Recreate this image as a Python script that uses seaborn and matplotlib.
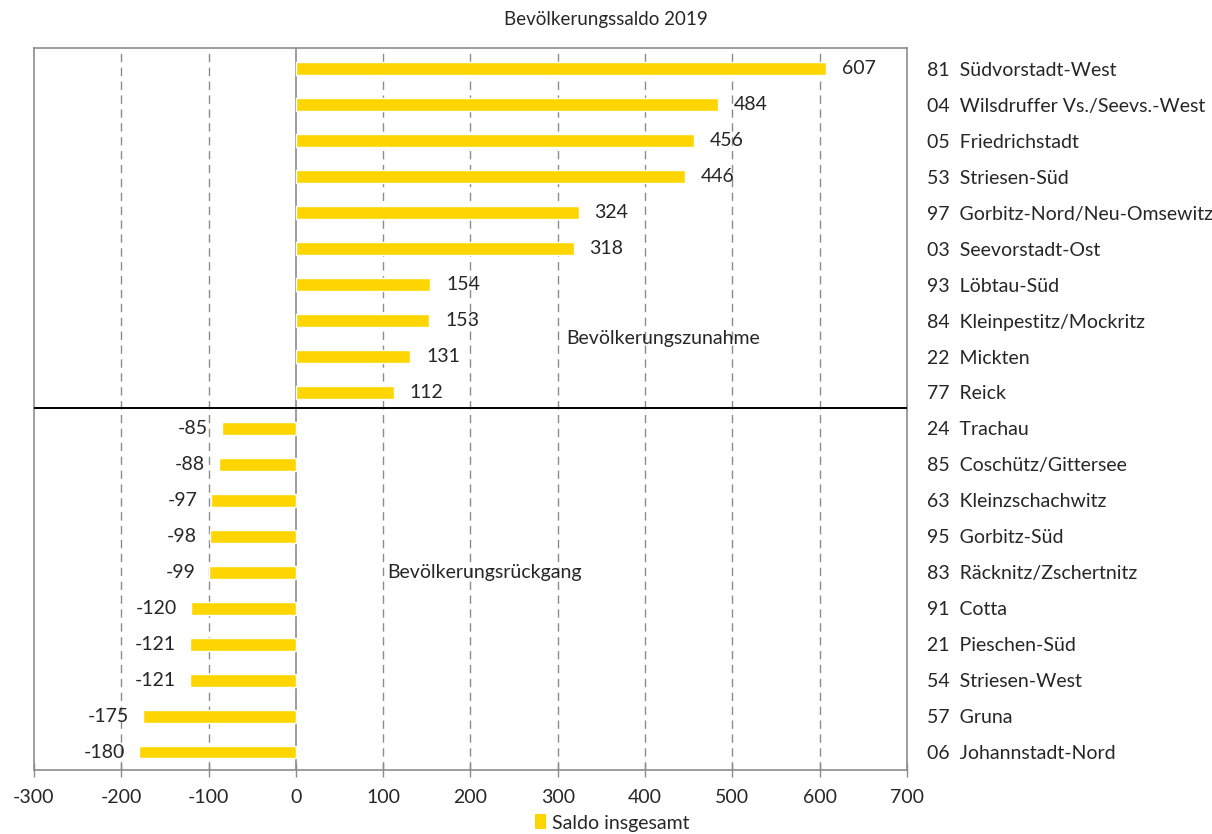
import matplotlib
matplotlib.use("Agg")
import matplotlib.pyplot as plt
from matplotlib.patches import Patch
import seaborn as sns
import pandas as pd

codes = ["81", "04", "05", "53", "97", "03", "93", "84", "22", "77",
         "24", "85", "63", "95", "83", "91", "21", "54", "57", "06"]
districts = ["Südvorstadt-West", "Wilsdruffer Vs./Seevs.-West", "Friedrichstadt",
             "Striesen-Süd", "Gorbitz-Nord/Neu-Omsewitz", "Seevorstadt-Ost",
             "Löbtau-Süd", "Kleinpestitz/Mockritz", "Mickten", "Reick",
             "Trachau", "Coschütz/Gittersee", "Kleinzschachwitz", "Gorbitz-Süd",
             "Räcknitz/Zschertnitz", "Cotta", "Pieschen-Süd", "Striesen-West",
             "Gruna", "Johannstadt-Nord"]
saldo = [607, 484, 456, 446, 324, 318, 154, 153, 131, 112,
         -85, -88, -97, -98, -99, -120, -121, -121, -175, -180]
x_ticks = [-300, -200, -100, 0, 100, 200, 300, 400, 500, 600, 700]

BAR = "#FFD500"
GRID = "#8C8C8C"
FS = 14

sns.set_theme(style="white")
plt.rcParams["font.family"] = ["Lato", "DejaVu Sans"]

labels = [f"{c}  {d}" for c, d in zip(codes, districts)]
df = pd.DataFrame({"Stadtteil": labels, "Saldo": saldo})

fig = plt.figure(figsize=(12.12, 8.34), dpi=100)
ax = fig.add_axes([34 / 1212, 1 - 770 / 834, (907 - 34) / 1212, (770 - 48) / 834])

sns.barplot(data=df, x="Saldo", y="Stadtteil", orient="h", color=BAR,
            width=0.36, saturation=1, ax=ax, zorder=3)

ax.set_xlim(-300, 700)
ax.set_ylim(19.5, -0.58)
ax.set_xticks(x_ticks)
ax.set_xticklabels([str(v) for v in x_ticks], fontsize=FS)
ax.set_xlabel("")
ax.set_ylabel("")

# dashed vertical gridlines, solid zero line
for v in x_ticks[1:-1]:
    if v == 0:
        ax.axvline(0, color=GRID, lw=1.2, zorder=2)
    else:
        ax.axvline(v, color=GRID, lw=1.0, ls=(0, (6, 4)), zorder=1)

# separator between gain and loss districts
ax.axhline(9.42, color="black", lw=1.4, zorder=4)

for s in ax.spines.values():
    s.set_color(GRID)
    s.set_linewidth(1.2)

ax.tick_params(axis="x", direction="inout", length=10, width=1.0, color=GRID,
               pad=9, bottom=True)
ax.yaxis.tick_right()
ax.tick_params(axis="y", length=0, pad=14.5, labelsize=FS)
for t in ax.get_yticklabels():
    t.set_horizontalalignment("left")

# value labels at bar ends
for i, v in enumerate(saldo):
    if v >= 0:
        ax.text(v + 18, i, str(v), ha="left", va="center", fontsize=FS, zorder=5)
    else:
        ax.text(v - 16, i, str(v), ha="right", va="center", fontsize=FS, zorder=5)

ax.text(310, 7.5, "Bevölkerungszunahme", ha="left", va="center", fontsize=FS)
ax.text(105, 14.0, "Bevölkerungsrückgang", ha="left", va="center", fontsize=FS)

fig.text(0.5, 1 - 19 / 834, "Bevölkerungssaldo 2019", ha="center", va="center",
         fontsize=13.5)

fig.legend(handles=[Patch(facecolor=BAR, edgecolor="none", label="Saldo insgesamt")],
           loc="center", bbox_to_anchor=(0.505, 1 - 823 / 834), frameon=False,
           fontsize=FS, handlelength=0.6, handleheight=0.8, handletextpad=0.3,
           borderaxespad=0, borderpad=0)

fig.savefig("out.png", dpi=100)
